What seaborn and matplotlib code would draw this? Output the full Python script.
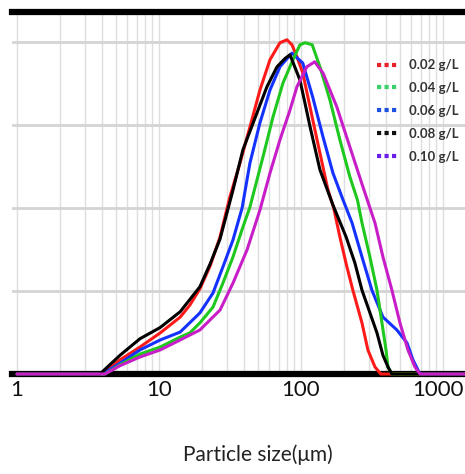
import numpy as np
import pandas as pd
import matplotlib
matplotlib.use("Agg")
import matplotlib.pyplot as plt
import matplotlib.transforms as mtransforms
import seaborn as sns
from matplotlib.lines import Line2D

# particle size (um) and volume density (%)
x_002 = [1.0, 4.0, 5.3, 7.35, 10.2, 14.1, 16.5, 19.4, 22.9, 26.9, 31.6, 37.2, 43.7, 51.4,
         60.5, 71.1, 79.7, 86.4, 93.7, 103, 125, 155, 170, 188, 210, 232, 269, 296, 332, 365, 1500]
y_002 = [0, 0, 0.34, 0.65, 0.99, 1.37, 1.66, 2.05, 2.6, 3.3, 4.27, 5.08, 5.95, 6.84,
         7.57, 7.98, 8.05, 7.93, 7.64, 7.25, 5.9, 4.43, 4.0, 3.3, 2.6, 2.02, 1.23, 0.58, 0.17, 0, 0]

x_004 = [1.0, 4.17, 5.31, 7.35, 10.2, 14.1, 16.5, 19.4, 24.0, 28.2, 33.2, 39.0, 43.7, 54.0,
         63.5, 74.7, 87.8, 98.4, 107, 120, 136, 160, 188, 221, 250, 269, 306, 343, 372, 397,
         410, 437, 1500]
y_004 = [0, 0, 0.22, 0.48, 0.65, 0.89, 0.99, 1.23, 1.61, 2.19, 2.82, 3.54, 4.02, 5.23,
         6.19, 7.01, 7.57, 7.93, 7.98, 7.93, 7.40, 6.60, 5.64, 4.75, 4.19, 3.64, 2.82, 2.02, 1.23, 0.58,
         0.17, 0, 0]

x_006 = [1.0, 4.03, 5.31, 7.35, 10.2, 14.1, 19.4, 24.0, 28.2, 33.2, 38.5, 43.7, 51.4, 60.5,
         71.1, 86.4, 103, 121, 143, 168, 198, 229, 269, 316, 378, 474, 558, 615, 689, 1500]
y_006 = [0, 0, 0.26, 0.58, 0.82, 1.01, 1.47, 1.95, 2.58, 3.23, 4.0, 5.08, 6.05, 6.84,
         7.40, 7.73, 7.49, 6.67, 5.71, 4.84, 4.19, 3.64, 2.82, 2.02, 1.37, 1.06, 0.75, 0.34, 0, 0]

x_008 = [1.0, 3.84, 5.31, 7.35, 10.2, 14.1, 19.4, 22.9, 26.9, 33.2, 39.0, 49.0, 57.6, 67.8,
         77.2, 83.7, 98.4, 116, 136, 168, 208, 240, 269, 343, 378, 410, 437, 1500]
y_008 = [0, 0, 0.45, 0.85, 1.12, 1.5, 2.1, 2.65, 3.25, 4.43, 5.40, 6.29, 6.92, 7.40,
         7.6, 7.69, 7.08, 5.95, 4.92, 4.07, 3.3, 2.67, 2.02, 0.99, 0.45, 0.17, 0, 0]

x_010 = [1.0, 4.17, 5.31, 7.35, 10.2, 14.1, 19.4, 26.9, 33.2, 41.7, 51.4, 60.5, 71.1, 83.7,
         93.7, 110, 125, 143, 179, 221, 273, 332, 378, 437, 498, 567, 635, 689, 1500]
y_010 = [0, 0, 0.2, 0.41, 0.58, 0.82, 1.06, 1.54, 2.19, 2.99, 3.95, 4.84, 5.64, 6.36,
         6.92, 7.40, 7.52, 7.25, 6.43, 5.47, 4.51, 3.64, 2.82, 2.02, 1.23, 0.58, 0.17, 0, 0]

labels = ["0.02 g/L", "0.04 g/L", "0.06 g/L", "0.08 g/L", "0.10 g/L"]
colors = ["#ff1a1a", "#1ec81e", "#1432ff", "#000000", "#c81ec8"]
legend_colors = ["#e8202a", "#3ccf6a", "#2050e0", "#111111", "#6a1ee6"]

frames = []
for lab, xs, ys in zip(labels, [x_002, x_004, x_006, x_008, x_010],
                       [y_002, y_004, y_006, y_008, y_010]):
    frames.append(pd.DataFrame({"size": xs, "vol": ys, "conc": lab}))
df = pd.concat(frames, ignore_index=True)

sns.set_style("white")
plt.rcParams["font.family"] = ["Lato", "DejaVu Sans"]

fig = plt.figure(figsize=(4.65, 4.74), dpi=100)
ax = fig.add_axes([12 / 465, 1 - 374 / 474, 453 / 465, 362 / 474])

# order so that purple ends on top, like the original
order = ["0.02 g/L", "0.06 g/L", "0.04 g/L", "0.08 g/L", "0.10 g/L"]
for lab in order:
    d = df[df["conc"] == lab]
    sns.lineplot(data=d, x="size", y="vol", color=colors[labels.index(lab)],
                 lw=2.2, sort=False, estimator=None, ax=ax, legend=False, clip_on=False)

ax.set_xscale("log")
ax.set_xlim(0.922, 1430)
ax.set_ylim(0, 8.72)
ax.set_yticks([2, 4, 6, 8])
ax.set_yticklabels([])
ax.set_xticks([1, 10, 100, 1000])
ax.set_xticklabels(["1", "10", "100", "1000"])
ax.xaxis.set_minor_locator(matplotlib.ticker.LogLocator(base=10, subs=np.arange(2, 10)))
ax.tick_params(axis="x", which="both", length=0, pad=4, labelsize=16, labelcolor="#111111")
ax.tick_params(axis="y", length=0)
ax.grid(axis="y", color="#d4d4d4", lw=2)
ax.grid(axis="x", which="both", color="#dedede", lw=1)
ax.set_axisbelow(True)

# the last label sits against the right edge in the original
last = ax.get_xticklabels()[-1]
last.set_transform(last.get_transform() + mtransforms.ScaledTranslation(-5 / 100, 0, fig.dpi_scale_trans))

for s in ["left", "right"]:
    ax.spines[s].set_visible(False)
ax.spines["top"].set_linewidth(4.5)
ax.spines["bottom"].set_linewidth(4.5)
ax.spines["top"].set_color("black")
ax.spines["bottom"].set_color("black")
ax.spines["bottom"].set_zorder(1.5)

ax.set_xlabel("")
ax.set_ylabel("")
fig.text(258 / 465, 1 - 455 / 474, "Particle size(\u03bcm)", ha="center", va="center",
         fontsize=15, color="#222222")

handles = [Line2D([], [], color=c, lw=3, linestyle=(0, (1, 0.8))) for c in legend_colors]
leg = ax.legend(handles, labels, loc="upper left", bbox_to_anchor=(360 / 453, 1 - 42 / 362),
                frameon=False, fontsize=9.5, handlelength=1.6, handletextpad=0.8,
                labelspacing=0.82, borderaxespad=0)
for t in leg.get_texts():
    t.set_fontweight("bold")
    t.set_color("#333333")

fig.savefig("out.png", dpi=100)
